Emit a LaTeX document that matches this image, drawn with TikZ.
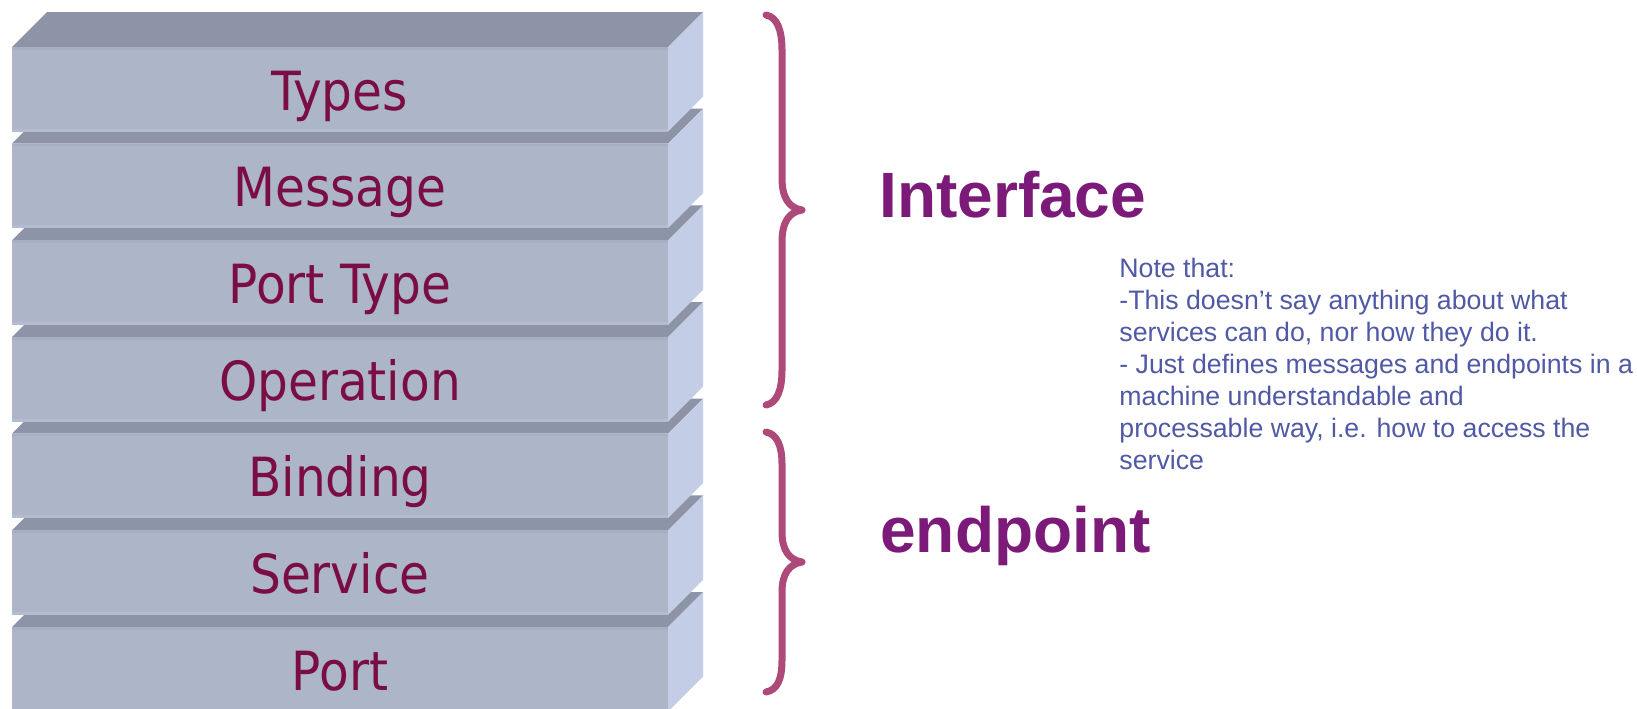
\documentclass[tikz,border=0pt]{standalone}
\usepackage{fontspec}
\setmainfont{Liberation Sans}
\newfontfamily\slabfont{DejaVu Sans Condensed}

\definecolor{slabfront}{HTML}{ADB5C9}
\definecolor{slabtop}{HTML}{8D94A7}
\definecolor{slabside}{HTML}{C3CDE5}
\definecolor{frontlow}{HTML}{B4BCD0}
\definecolor{fronthigh}{HTML}{A6AFC3}
\definecolor{slabtext}{HTML}{7A0E44}
\definecolor{bracecol}{HTML}{AD4A7A}
\definecolor{titlecol}{HTML}{7B1A78}
\definecolor{notecol}{HTML}{5059A5}

\tikzset{
  slablabel/.style={anchor=base, inner sep=0pt, text=slabtext,
    font=\slabfont\fontsize{27pt}{27pt}\selectfont},
  grouptitle/.style={anchor=base west, inner sep=0pt, text=titlecol,
    font=\bfseries\fontsize{32pt}{32pt}\selectfont},
  noteline/.style={anchor=base west, inner sep=0pt, text=notecol,
    font=\fontsize{13.35pt}{16pt}\selectfont},
  brace/.style={draw=bracecol, line width=3.5pt, line cap=round, line join=round}
}

\begin{document}
\begin{tikzpicture}[x=0.5pt, y=-0.5pt]
\useasboundingbox (0,0) rectangle (1637,708);
\fill[white] (0,0) rectangle (1637,708);
\begin{scope}
\clip (0,0) rectangle (1637,708);
% stacked slabs, lowest first so each upper slab hides the one below
\foreach \i in {6,5,...,0} {
  \pgfmathsetmacro\t{47+96.67*\i}
  \fill[slabtop] (12,\t) -- (668,\t) -- (703,\t-35) -- (47,\t-35) -- cycle;
  \fill[slabside] (668,\t) -- (703,\t-35) -- (703,\t+49.5) -- (668,\t+84.5) -- cycle;
  \fill[slabfront] (12,\t) rectangle (668,\t+84.5);
  \fill[frontlow] (12,\t+81.5) rectangle (668,\t+84.5);
  \fill[fronthigh] (12,\t) rectangle (668,\t+2.5);
}
\end{scope}

% slab labels
\foreach \lab/\nm [count=\i from 0] in
  {Types/types, Message/message, Port Type/porttype, Operation/operation,
   Binding/binding, Service/service, Port/port}
  \node[slablabel] (\nm) at (340,110+96.67*\i) {\lab};

% braces
\draw[brace] (766,15) .. controls (777,17) and (782,30) .. (782,50)
  -- (782,178) .. controls (782,198) and (789,208) .. (802,210)
  .. controls (789,212) and (782,222) .. (782,242)
  -- (782,370) .. controls (782,390) and (777,403) .. (766,405);
\draw[brace] (766,432) .. controls (777,434) and (782,446) .. (782,464)
  -- (782,532) .. controls (782,550) and (789,560) .. (802,562)
  .. controls (789,564) and (782,574) .. (782,592)
  -- (782,660) .. controls (782,680) and (777,690) .. (766,692);

% group titles
\node[grouptitle] (interface) at (879,217) {Interface};
\node[grouptitle] (endpoint) at (880,552) {endpoint};

% note
\foreach \txt [count=\k from 0] in
  {Note that:,
   -This doesn’t say anything about what,
   {services can do, nor how they do it.},
   - Just defines messages and endpoints in a,
   machine understandable and,
   {processable way, i.e. how to access the},
   service}
  \node[noteline] (note\k) at (1119,277+32*\k) {\txt};
\end{tikzpicture}
\end{document}
